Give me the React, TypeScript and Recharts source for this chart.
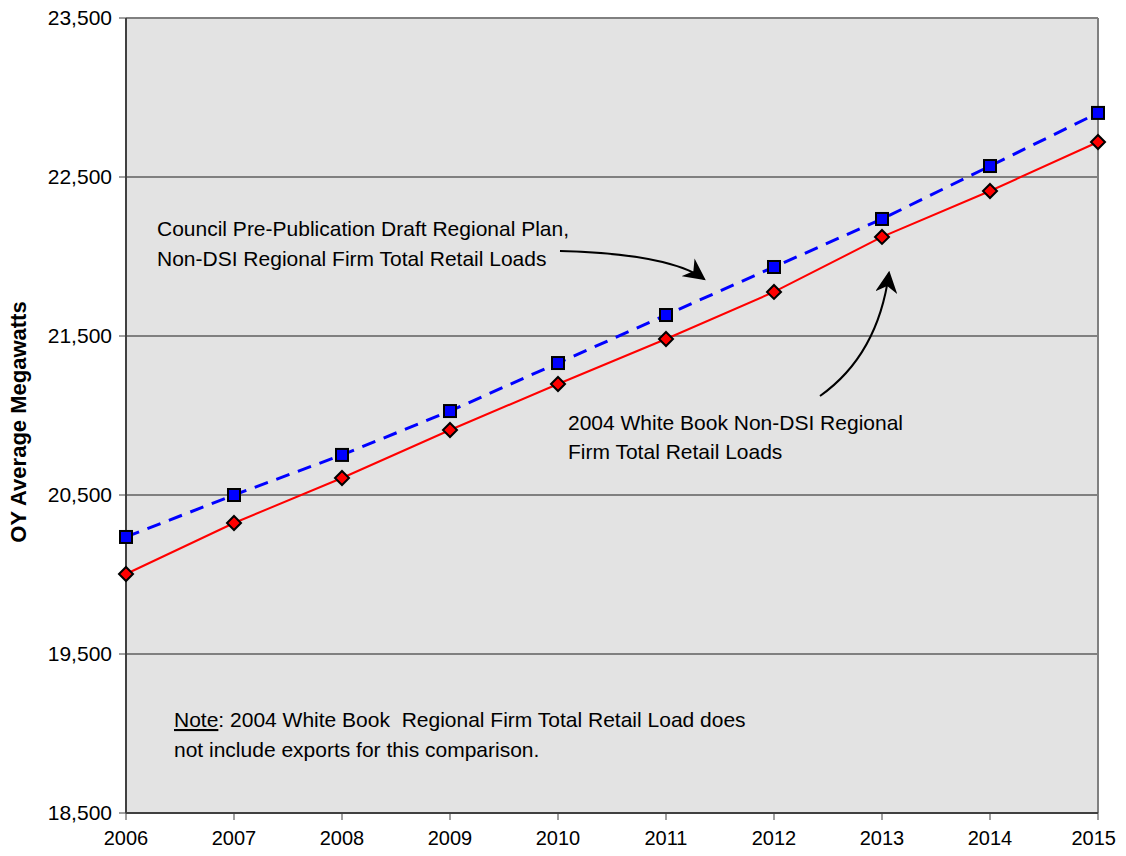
import { LineChart, Line, XAxis, YAxis, CartesianGrid, ReferenceLine } from 'recharts';

const years = [2006, 2007, 2008, 2009, 2010, 2011, 2012, 2013, 2014, 2015];
const councilDraft = [20236, 20500, 20752, 21028, 21330, 21632, 21934, 22236, 22569, 22903];
const whiteBook = [20003, 20324, 20607, 20909, 21198, 21481, 21777, 22123, 22412, 22720];
const yTicks = [18500, 19500, 20500, 21500, 22500, 23500];

const chartData = years.map((year, i) => ({
  year,
  council: councilDraft[i],
  white: whiteBook[i],
}));

const FONT = '"Liberation Sans", Arial, sans-serif';

const SquareDot = (props: any) => {
  const { cx, cy } = props;
  if (cx == null || cy == null) return null;
  return <rect x={cx - 6} y={cy - 6} width={12} height={12} fill="#0000ff" stroke="#000" strokeWidth={2} />;
};

const DiamondDot = (props: any) => {
  const { cx, cy } = props;
  if (cx == null || cy == null) return null;
  const r = 7;
  return (
    <polygon
      points={`${cx},${cy - r} ${cx + r},${cy} ${cx},${cy + r} ${cx - r},${cy}`}
      fill="#ff0000"
      stroke="#000"
      strokeWidth={2}
    />
  );
};

// keep the last year label inside the visible page edge
const YearTick = (props: any) => {
  const { x, y, payload } = props;
  const last = payload.value === years[years.length - 1];
  return (
    <text
      x={last ? x + 18 : x}
      y={y}
      dy="0.71em"
      textAnchor={last ? 'end' : 'middle'}
      style={{ fontFamily: FONT, fontSize: 20, fill: '#000' }}
    >
      {payload.value}
    </text>
  );
};

const textStyle = { fontFamily: FONT, fontSize: 21, fill: '#000' };

export default function App() {
  return (
    <div style={{ position: 'relative', width: 1126, height: 856, margin: -8, background: '#fff' }}>
      <LineChart width={1126} height={856} data={chartData} margin={{ top: 18, right: 28, bottom: 0, left: 0 }}>
        <CartesianGrid vertical={false} fill="#e3e3e3" stroke="#808080" strokeWidth={2} />
        <XAxis
          dataKey="year"
          type="number"
          domain={[2006, 2015]}
          ticks={years}
          height={43}
          axisLine={{ stroke: '#404040', strokeWidth: 2 }}
          tickLine={{ stroke: '#404040' }}
          tickSize={7}
          tickMargin={11}
          tick={<YearTick />}
        />
        <YAxis
          domain={[18500, 23500]}
          ticks={yTicks}
          width={126}
          axisLine={{ stroke: '#404040', strokeWidth: 2 }}
          tickLine={{ stroke: '#404040' }}
          tickSize={7}
          tickMargin={7}
          tickFormatter={(v) => v.toLocaleString('en-US')}
          tick={{ fontFamily: FONT, fontSize: 21, fill: '#000' }}
        />
        <ReferenceLine x={2015} stroke="#808080" strokeWidth={2} />
        <Line
          dataKey="white"
          stroke="#ff0000"
          strokeWidth={2}
          dot={<DiamondDot />}
          isAnimationActive={false}
        />
        <Line
          dataKey="council"
          stroke="#0000ff"
          strokeWidth={3}
          strokeDasharray="14 9"
          dot={<SquareDot />}
          isAnimationActive={false}
        />
      </LineChart>
      <svg width={1126} height={856} style={{ position: 'absolute', left: 0, top: 0, pointerEvents: 'none' }}>
        <defs>
          <marker id="ah" markerWidth="22" markerHeight="22" refX="9" refY="5" orient="auto" markerUnits="userSpaceOnUse" viewBox="0 0 10 10">
            <path d="M0,0 L10,5 L0,10 L3,5 Z" fill="#000" />
          </marker>
        </defs>
        <text
          x={26}
          y={422}
          transform="rotate(-90 26 422)"
          textAnchor="middle"
          style={{ fontFamily: FONT, fontSize: 22, fontWeight: 'bold', fill: '#000' }}
        >
          OY Average Megawatts
        </text>
        <text x={157} y={236} style={textStyle}>Council Pre-Publication Draft Regional Plan,</text>
        <text x={157} y={266} style={textStyle}>Non-DSI Regional Firm Total Retail Loads</text>
        <path d="M 560 251 Q 670 254 704 279" fill="none" stroke="#000" strokeWidth={2} markerEnd="url(#ah)" />
        <text x={568} y={430} style={textStyle}>2004 White Book Non-DSI Regional</text>
        <text x={568} y={459} style={textStyle}>Firm Total Retail Loads</text>
        <path d="M 820 396 Q 878 355 889 273" fill="none" stroke="#000" strokeWidth={2} markerEnd="url(#ah)" />
        <text x={174} y={727} style={textStyle} xmlSpace="preserve">
          <tspan textDecoration="underline">Note</tspan>: 2004 White Book{'\u00a0 '}Regional Firm Total Retail Load does
        </text>
        <text x={174} y={757} style={textStyle}>not include exports for this comparison.</text>
      </svg>
    </div>
  );
}
